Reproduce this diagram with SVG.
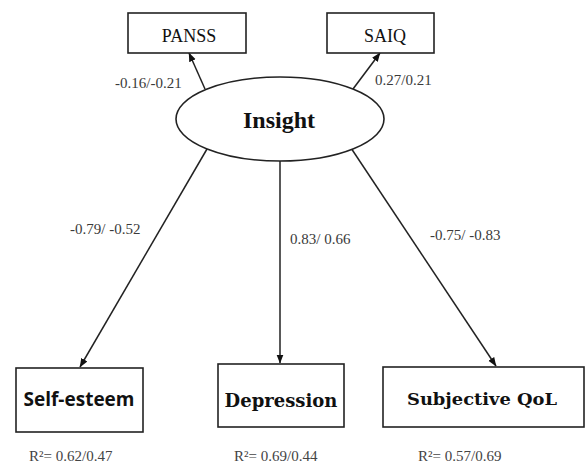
<svg xmlns="http://www.w3.org/2000/svg" width="588" height="465" viewBox="0 0 588 465">
<style>
.box{fill:#fff;stroke:#222;stroke-width:1.6}
.edge{fill:none;stroke:#222;stroke-width:1.5}
.lbl{font-family:"Liberation Serif","Times New Roman",serif;font-size:15px;fill:#3a3a3a}
.ind{font-family:"Liberation Serif","Times New Roman",serif;font-size:18px;fill:#111;text-anchor:middle}
.r2{font-family:"Liberation Serif","Times New Roman",serif;font-size:15px;fill:#444}
</style>
<defs>
<marker id="arr" markerWidth="9" markerHeight="8" refX="8.5" refY="4" orient="auto" markerUnits="userSpaceOnUse">
<path d="M0,0.5 L9,4 L0,7.5 Z" fill="#111"/>
</marker>
</defs>
<rect width="588" height="465" fill="#fff"/>
<g id="connectors">
<line class="edge" x1="205" y1="89" x2="189" y2="53" marker-end="url(#arr)"/>
<line class="edge" x1="353" y1="89" x2="380" y2="53" marker-end="url(#arr)"/>
<line class="edge" x1="207" y1="149" x2="80" y2="367" marker-end="url(#arr)"/>
<line class="edge" x1="280" y1="161" x2="280" y2="363" marker-end="url(#arr)"/>
<line class="edge" x1="351" y1="148" x2="496" y2="366" marker-end="url(#arr)"/>
<text class="lbl" x="115" y="88">-0.16/-0.21</text>
<text class="lbl" x="375" y="85">0.27/0.21</text>
<text class="lbl" x="70" y="234">-0.79/ -0.52</text>
<text class="lbl" x="290" y="244">0.83/ 0.66</text>
<text class="lbl" x="430" y="240">-0.75/ -0.83</text>
</g>
<g id="panss">
<rect class="box" x="128" y="13" width="118" height="40"/>
<text class="ind" x="189" y="42">PANSS</text>
</g>
<g id="saiq">
<rect class="box" x="327" y="13" width="107" height="40"/>
<text class="ind" x="385" y="42">SAIQ</text>
</g>
<g id="insight">
<ellipse cx="280" cy="119" rx="104" ry="42" fill="#fff" stroke="#222" stroke-width="1.6"/>
<text x="279" y="128" text-anchor="middle" font-family="'Liberation Serif','Times New Roman',serif" font-size="24" font-weight="bold" fill="#111">Insight</text>
</g>
<g id="self-esteem">
<rect class="box" x="16" y="368" width="127" height="64"/>
<text x="79" y="406" text-anchor="middle" font-family="'Open Sans','Noto Sans',sans-serif" font-size="19" font-weight="bold" fill="#111">Self-esteem</text>
<text class="r2" x="29" y="461">R²= 0.62/0.47</text>
</g>
<g id="depression">
<rect class="box" x="218" y="364" width="126" height="63"/>
<text x="281" y="407" text-anchor="middle" font-family="'DejaVu Serif',serif" font-size="18" font-weight="bold" fill="#111">Depression</text>
<text class="r2" x="234" y="461">R²= 0.69/0.44</text>
</g>
<g id="qol">
<rect class="box" x="383" y="367" width="201" height="60"/>
<text x="482" y="405" text-anchor="middle" font-family="'DejaVu Serif',serif" font-size="17" font-weight="bold" fill="#111" textLength="150" lengthAdjust="spacingAndGlyphs">Subjective QoL</text>
<text class="r2" x="418" y="461">R²= 0.57/0.69</text>
</g>
</svg>
